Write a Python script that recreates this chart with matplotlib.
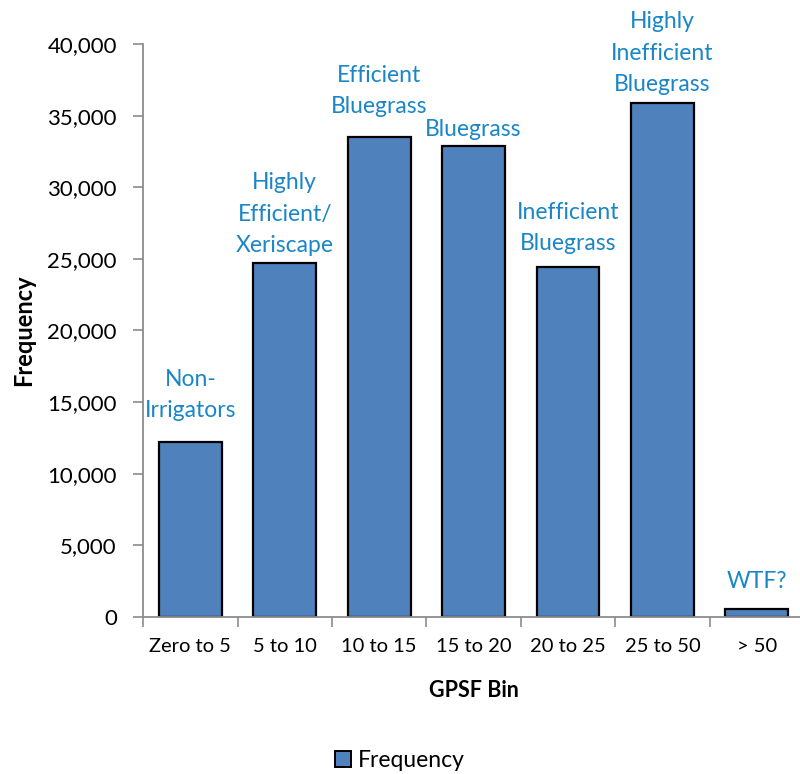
import matplotlib
matplotlib.use("Agg")
import matplotlib.pyplot as plt
from matplotlib.ticker import FuncFormatter, FixedLocator
from matplotlib.patches import Patch

plt.rcParams['font.family'] = ['Lato', 'DejaVu Sans']

bins = ["Zero to 5", "5 to 10", "10 to 15", "15 to 20", "20 to 25", "25 to 50", "> 50"]
frequency = [12200, 24700, 33500, 32900, 24400, 35900, 550]
groups = ["Non-\nIrrigators", "Highly\nEfficient/\nXeriscape", "Efficient\nBluegrass",
          "Bluegrass", "Inefficient\nBluegrass", "Highly\nInefficient\nBluegrass", "WTF?"]

# lift of each group label above its bar, in points
label_lift = [15, 5, 14.5, 4.5, 9.5, 5.5, 12]

bar_color = "#4f81bd"
note_color = "#1a86c8"
axis_gray = "#8c8c8c"

fig = plt.figure(figsize=(8.0, 7.74), dpi=100)
ax = fig.add_axes([0.179, 0.203, 0.826, 0.740])

x = list(range(len(bins)))
bars = ax.bar(x, frequency, width=0.667, color=bar_color, edgecolor="black", linewidth=1.6)

for xi, val, txt, lift in zip(x, frequency, groups, label_lift):
    ax.annotate(txt, (xi, val), xytext=(0, lift), textcoords="offset points",
                ha="center", va="bottom", color=note_color, fontsize=16.5,
                linespacing=1.62)

ax.set_xlim(-0.5, len(bins) - 0.5)
ax.set_ylim(0, 40000)
ax.set_yticks(range(0, 40001, 5000))
ax.yaxis.set_major_formatter(FuncFormatter(lambda v, p: f"{int(v):,}"))
ax.set_xticks(x)
ax.set_xticklabels(bins, fontsize=14.5)
ax.xaxis.set_minor_locator(FixedLocator([i + 0.5 for i in range(-1, len(bins))]))
ax.tick_params(axis="x", which="major", length=0, pad=15)
ax.tick_params(axis="x", which="minor", length=7, color=axis_gray, width=1.2)
ax.tick_params(axis="y", length=7, color=axis_gray, width=1.2, labelsize=16, pad=12)

for s in ["top", "right"]:
    ax.spines[s].set_visible(False)
for s in ["left", "bottom"]:
    ax.spines[s].set_color(axis_gray)
    ax.spines[s].set_linewidth(1.3)

ax.set_xlabel("GPSF Bin", fontsize=15.5, fontweight="bold", labelpad=18)
ax.set_ylabel("Frequency", fontsize=17, fontweight="bold", labelpad=9)

handle = Patch(facecolor=bar_color, edgecolor="black", linewidth=1.4, label="Frequency")
fig.legend(handles=[handle], loc="center", bbox_to_anchor=(0.5, 0.018), frameon=False,
           fontsize=16.5, handlelength=0.7, handleheight=0.7, handletextpad=0.3)

fig.savefig("out.png", dpi=100)
